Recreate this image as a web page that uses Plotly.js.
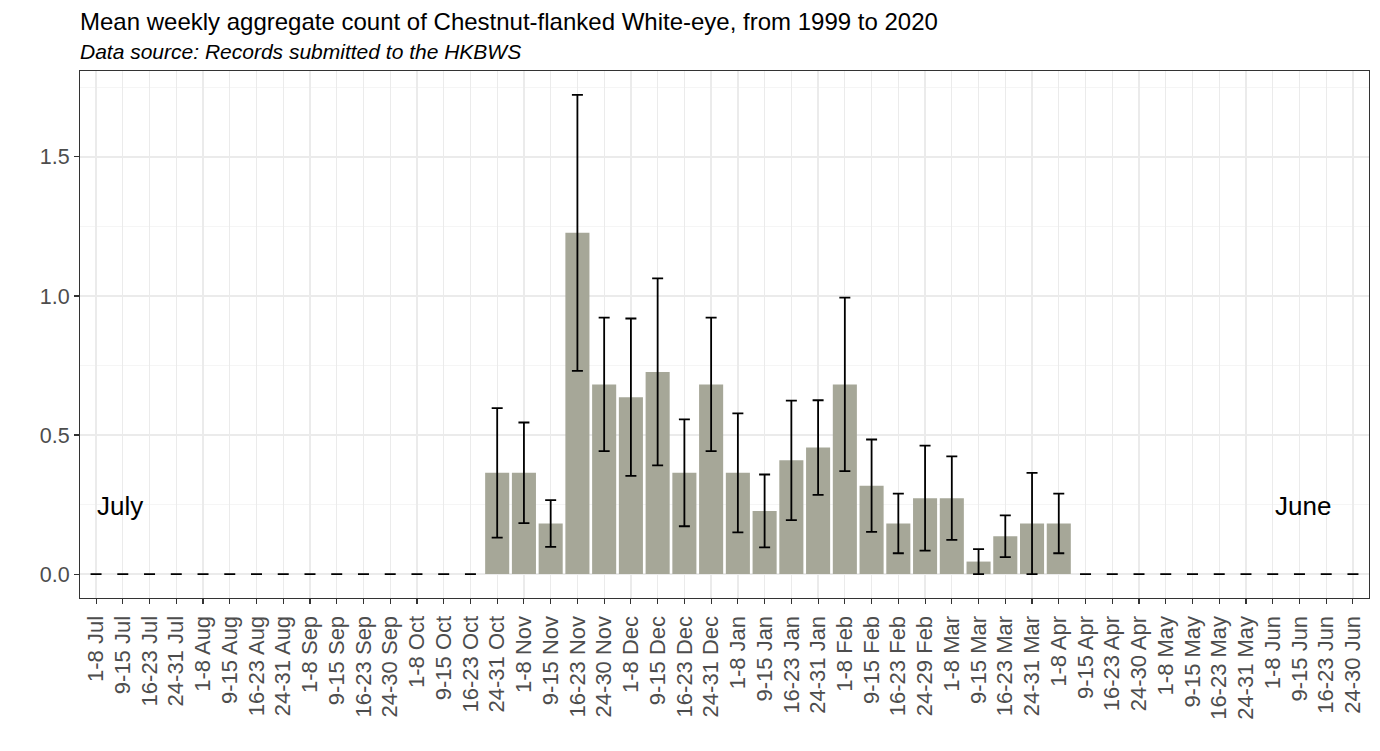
<!DOCTYPE html>
<html>
<head>
<meta charset="utf-8">
<script src="https://cdn.plot.ly/plotly-3.0.1.min.js"></script>
<style>html,body{margin:0;padding:0;background:#fff;}#chart{width:1380px;height:751px;}</style>
</head>
<body>
<div id="chart"></div>
<script>
var weeks = [
  "1-8 Jul","9-15 Jul","16-23 Jul","24-31 Jul",
  "1-8 Aug","9-15 Aug","16-23 Aug","24-31 Aug",
  "1-8 Sep","9-15 Sep","16-23 Sep","24-30 Sep",
  "1-8 Oct","9-15 Oct","16-23 Oct","24-31 Oct",
  "1-8 Nov","9-15 Nov","16-23 Nov","24-30 Nov",
  "1-8 Dec","9-15 Dec","16-23 Dec","24-31 Dec",
  "1-8 Jan","9-15 Jan","16-23 Jan","24-31 Jan",
  "1-8 Feb","9-15 Feb","16-23 Feb","24-29 Feb",
  "1-8 Mar","9-15 Mar","16-23 Mar","24-31 Mar",
  "1-8 Apr","9-15 Apr","16-23 Apr","24-30 Apr",
  "1-8 May","9-15 May","16-23 May","24-31 May",
  "1-8 Jun","9-15 Jun","16-23 Jun","24-30 Jun"
];
var meanCount = [
  0,0,0,0,
  0,0,0,0,
  0,0,0,0,
  0,0,0,0.364,
  0.364,0.182,1.227,0.682,
  0.636,0.727,0.364,0.682,
  0.364,0.227,0.409,0.455,
  0.682,0.318,0.182,0.273,
  0.273,0.045,0.136,0.182,
  0.182,0,0,0,
  0,0,0,0,
  0,0,0,0
];
var stdErr = [
  0,0,0,0,
  0,0,0,0,
  0,0,0,0,
  0,0,0,0.233,
  0.181,0.084,0.496,0.240,
  0.283,0.336,0.192,0.240,
  0.214,0.131,0.215,0.170,
  0.312,0.166,0.107,0.189,
  0.150,0.045,0.075,0.182,
  0.107,0,0,0,
  0,0,0,0,
  0,0,0,0
];
var yTicks = [0, 0.5, 1.0, 1.5];
var titleText = "Mean weekly aggregate count of Chestnut-flanked White-eye, from 1999 to 2020";
var subtitleText = "Data source: Records submitted to the HKBWS";

var FONT = "Liberation Sans, Arial, sans-serif";

var trace = {
  type: "bar",
  x: weeks,
  y: meanCount,
  marker: {color: "#A6A798", line: {width: 0}},
  error_y: {type: "data", array: stdErr, visible: true, color: "#000000", thickness: 1.8, width: 5.5},
  hoverinfo: "x+y"
};

var layout = {
  width: 1380, height: 751,
  margin: {l: 80, r: 11, t: 71, b: 153},
  paper_bgcolor: "#ffffff", plot_bgcolor: "#ffffff",
  bargap: 0.1,
  showlegend: false,
  font: {family: FONT, color: "#4D4D4D"},
  xaxis: {
    type: "category",
    categoryorder: "array", categoryarray: weeks,
    range: [-0.6, weeks.length - 0.4],
    tickangle: -90,
    tickfont: {family: FONT, size: 22, color: "#4D4D4D"},
    ticks: "outside", ticklen: 5, tickwidth: 1.1, tickcolor: "#333333",
    ticklabelstandoff: 3,
    showgrid: true, gridcolor: "#EBEBEB", gridwidth: 1.3,
    showline: true, linecolor: "#333333", linewidth: 1.1, mirror: true,
    zeroline: false, fixedrange: true
  },
  yaxis: {
    range: [-0.086, 1.809],
    tickvals: yTicks,
    tickformat: ".1f",
    tickfont: {family: FONT, size: 21.5, color: "#4D4D4D"},
    ticks: "outside", ticklen: 5, tickwidth: 1.1, tickcolor: "#333333",
    showgrid: true, gridcolor: "#EBEBEB", gridwidth: 1.3,
    minor: {dtick: 0.25, tick0: 0, showgrid: true, gridcolor: "#F2F2F2", gridwidth: 0.8, ticks: ""},
    showline: true, linecolor: "#333333", linewidth: 1.1, mirror: true,
    zeroline: false, fixedrange: true
  },
  annotations: [
    {text: titleText, xref: "paper", yref: "paper", x: 0, xshift: -2, y: 1.0939, xanchor: "left", yanchor: "middle",
     showarrow: false, font: {family: FONT, size: 24, color: "#000000"}},
    {text: "<i>" + subtitleText + "</i>", xref: "paper", yref: "paper", x: 0, xshift: -2, y: 1.0372, xanchor: "left", yanchor: "middle",
     showarrow: false, font: {family: FONT, size: 21, color: "#000000"}},
    {text: "July", xref: "x", yref: "y", x: weeks[1], y: 0.245, xshift: -3, xanchor: "center", yanchor: "middle",
     showarrow: false, font: {family: FONT, size: 26, color: "#000000"}},
    {text: "June", xref: "x", yref: "y", x: weeks[45], y: 0.245, xshift: 4, xanchor: "center", yanchor: "middle",
     showarrow: false, font: {family: FONT, size: 26, color: "#000000"}}
  ]
};

Plotly.newPlot("chart", [trace], layout, {displayModeBar: false, staticPlot: true});
</script>
</body>
</html>
